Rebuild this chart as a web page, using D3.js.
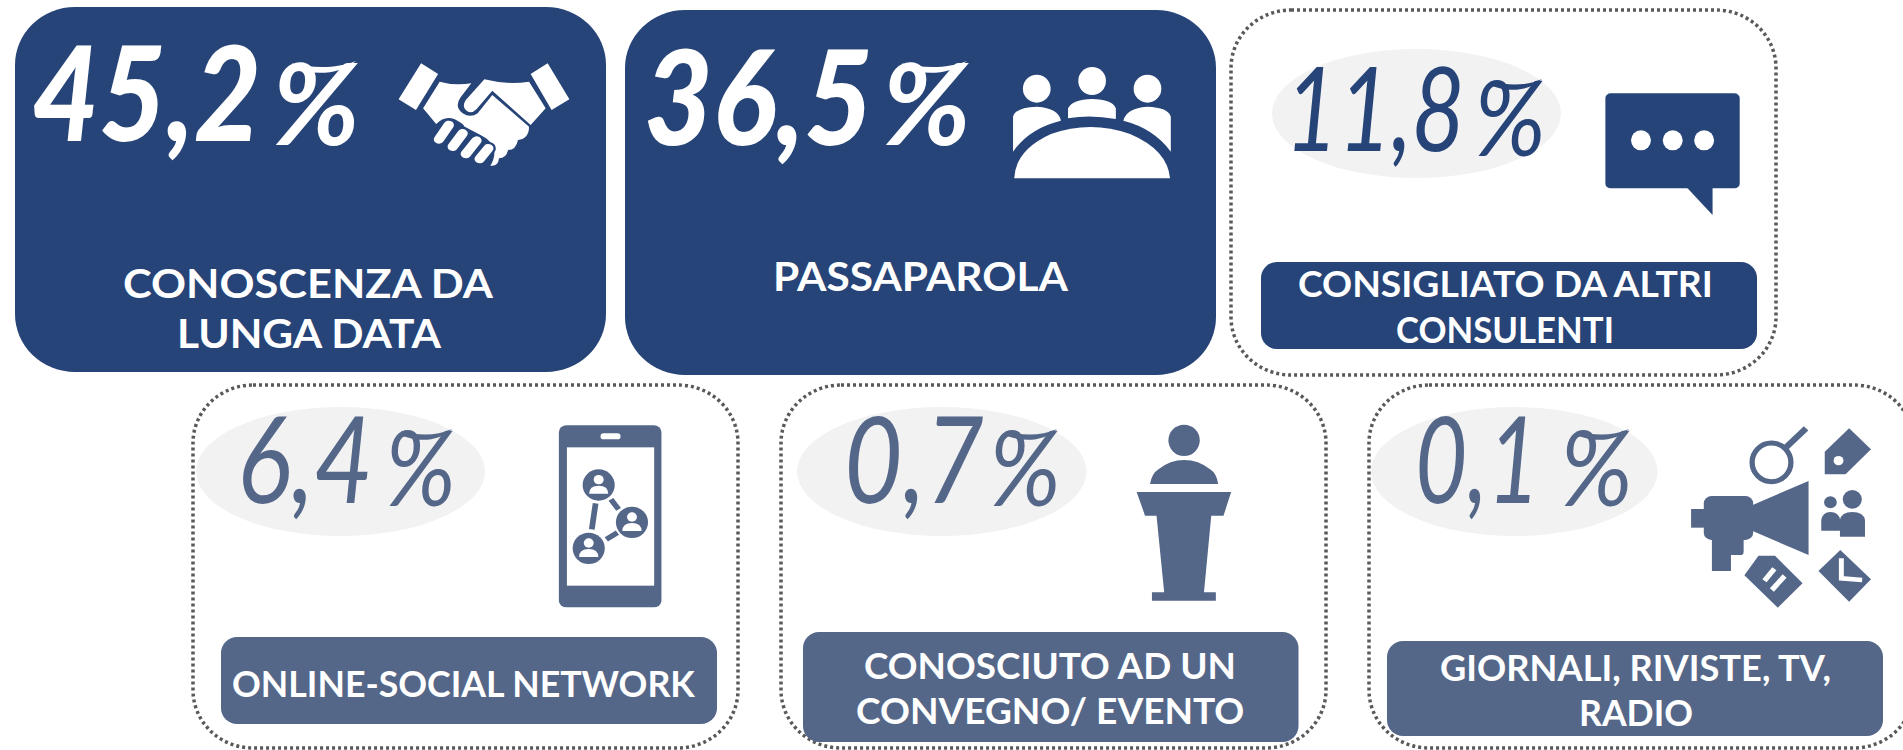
<!DOCTYPE html>
<html><head><meta charset="utf-8">
<script src="https://cdnjs.cloudflare.com/ajax/libs/d3/7.8.5/d3.min.js"></script>
<style>html,body{margin:0;padding:0;background:#fff;overflow:hidden}svg{display:block}</style>
</head><body><svg id="c" width="1903" height="750"></svg>
<script>
// ---- data ----
const categories = ["CONOSCENZA DA LUNGA DATA","PASSAPAROLA","CONSIGLIATO DA ALTRI CONSULENTI","ONLINE-SOCIAL NETWORK","CONOSCIUTO AD UN CONVEGNO/ EVENTO","GIORNALI, RIVISTE, TV, RADIO"];
const values = [45.2,36.5,11.8,6.4,0.7,0.1];
const labelLines = [["CONOSCENZA DA","LUNGA DATA"],["PASSAPAROLA"],["CONSIGLIATO DA ALTRI","CONSULENTI"],["ONLINE-SOCIAL NETWORK"],["CONOSCIUTO AD UN","CONVEGNO/ EVENTO"],["GIORNALI, RIVISTE, TV,","RADIO"]];

// ---- layout and style (separate from the data) ----
const DARK="#264478", MID="#556789", DOT="#595959", PALE="#f2f2f2";
const layout = [
 {card:[15,7,591,365],solid:true,color:DARK,num:[32,141,229,132,900],pct:[274,145,82,84],lines:[[123,298,370],[177,348,264]],fs:40,icon:"hands",z:[0,0,2.529]},
 {card:[625,10,591,365],solid:true,color:DARK,num:[644,145,229,132,900],pct:[884,145,83,84],lines:[[773,291,295]],fs:40,icon:"people",z:[620,0,2.529]},
 {card:[1231,10,545,365],color:DARK,ell:[1272,49,289,129],num:[1285,151,180,117,400],pct:[1476,156,66,77],box:[1261,262,496,87],lines:[[1298,297,415],[1396,343,218]],fs:36,icon:"bubble",z:[1220,0,2.613]},
 {card:[193,385,545,363],color:MID,ell:[196,407,289,129],num:[237,503,136,120,400],pct:[387,506,65,77],box:[221,637,496,87],lines:[[232,697,463]],fs:36,icon:"phone",z:[180,370,2.613]},
 {card:[781,385,545,363],color:MID,ell:[797,407,289.5,129],num:[844,503,140,120,400],pct:[991,506,66,77],box:[803,632,495.5,110],lines:[[864,679,372],[856,724,388.5]],fs:36,icon:"podium",z:[770,370,2.613]},
 {card:[1369,385,545,363],color:MID,ell:[1371,407,286.5,129],num:[1415,503,125,120,400],pct:[1562,506,67,77],box:[1387,641,496,95],lines:[[1440,681,391],[1579,726,114]],fs:36,icon:"media",z:[1350,370,2.835]}
];
const fmt = d3.formatLocale({decimal:",",thousands:".",grouping:[3],currency:["","€"]}).format(".1f");
const FONT = "Lato, 'Open Sans', sans-serif";

// places a text so that it spans the width w, by a horizontal scale of the whole element
function fit(sel,x,y,w){
 const nat=sel.node().getComputedTextLength();
 return sel.attr("transform",`translate(${x},${y}) scale(${w/nat},1)`);
}

// pictograms, drawn in the crop coordinates of each card
function P(g,d,fill){return g.append("path").attr("d",d).attr("fill",fill||null);}
function E(g,cx,cy,rx,ry,fill){return g.append("ellipse").attr("cx",cx).attr("cy",cy).attr("rx",rx).attr("ry",ry).attr("fill",fill||null);}
const icons = {
 hands(g,bg){
  P(g,"M1065 190L1108 222L1052 330L1008 298Z");
  P(g,"M1385 190L1342 222L1395 330L1440 298Z");
  P(g,"M1112 245Q1150 258 1192 250L1165 292Q1148 320 1170 340Q1190 355 1208 340L1245 285L1338 380Q1338 415 1310 420Q1305 450 1285 450Q1280 475 1262 475Q1260 500 1240 497Q1255 470 1248 440Q1240 420 1215 405Q1200 395 1175 380Q1170 370 1150 358Q1125 345 1103 372L1070 325Z");
  P(g,"M1225 238Q1280 255 1338 245L1380 325L1342 375L1245 272L1205 328Q1190 345 1178 330Q1168 318 1178 300Z");
  [[1110,418,1135,375],[1145,440,1170,400],[1178,462,1205,422],[1213,477,1235,445]].forEach(f=>{
   g.append("line").attr("x1",f[0]).attr("y1",f[1]).attr("x2",f[2]).attr("y2",f[3]).attr("stroke",bg).attr("stroke-width",38).attr("stroke-linecap","round");
   g.append("line").attr("x1",f[0]).attr("y1",f[1]).attr("x2",f[2]).attr("y2",f[3]).attr("stroke","#fff").attr("stroke-width",26).attr("stroke-linecap","round");
  });
 },
 people(g){
  E(g,1054,266,35,42);E(g,1194,243,35,42);E(g,1334,266,35,42);
  P(g,"M997 535Q1000 450 1090 402Q1190 360 1290 402Q1385 450 1391 535Z");
  P(g,"M994 350Q1000 322 1055 320Q1110 325 1115 362Q1035 385 994 455Z");
  P(g,"M1133 355L1133 325Q1145 298 1194 297Q1245 298 1254 325L1254 357Q1190 343 1133 355Z");
  P(g,"M1393 350Q1387 322 1333 320Q1280 325 1273 362Q1350 385 1393 455Z");
 },
 bubble(g,bg){
  g.append("rect").attr("x",1007).attr("y",280).attr("width",351).attr("height",285).attr("rx",14);
  P(g,"M1218 560L1287 645L1287 560Z");
  [1100,1183,1265].forEach(x=>E(g,x,421,26,30,bg));
 },
 phone(g,bg){
  g.append("rect").attr("x",990).attr("y",166).attr("width",268).attr("height",546).attr("rx",20);
  g.append("rect").attr("x",1011).attr("y",232).attr("width",228).attr("height",415).attr("fill",bg);
  g.append("rect").attr("x",1099).attr("y",190).attr("width",52).attr("height",18).attr("rx",8).attr("fill",bg);
  [[1094,345],[1181,457],[1068,535]].forEach(n=>{
   E(g,n[0],n[1],42,47);
   E(g,n[0],n[1]-16,13,14,bg);
   P(g,`M${n[0]-25} ${n[1]+26}Q${n[0]-25} ${n[1]+2} ${n[0]} ${n[1]+2}Q${n[0]+25} ${n[1]+2} ${n[0]+25} ${n[1]+26}Z`,bg);
  });
  [[1086,400,1076,478],[1126,388,1146,418],[1114,508,1143,488]].forEach(l=>
   g.append("line").attr("x1",l[0]).attr("y1",l[1]).attr("x2",l[2]).attr("y2",l[3]).attr("stroke",MID).attr("stroke-width",15));
 },
 podium(g){
  E(g,1082,211,41,47);
  P(g,"M993 342Q998 310 1015 298Q1045 270 1082 270Q1120 270 1150 298Q1167 310 1171 342Z");
  P(g,"M958 366L1205 366L1185 437L1153 437L1134 667L1165 667L1165 692L998 692L998 667L1030 667L1010 437L980 437Z");
 },
 media(g,bg){
  g.append("rect").attr("x",1003).attr("y",378).attr("width",140).attr("height",132).attr("rx",22);
  g.append("rect").attr("x",967).attr("y",417).attr("width",50).attr("height",56);
  P(g,"M1026 500L1116 500L1116 545Q1116 555 1106 555L1080 555L1080 603L1026 603Z");
  P(g,"M1135 408L1300 333L1300 555L1135 480Z");
  E(g,1195,277,55,58).attr("fill","none").attr("stroke",MID).attr("stroke-width",15);
  g.append("line").attr("x1",1236).attr("y1",232).attr("x2",1293).attr("y2",175).attr("stroke",MID).attr("stroke-width",18);
  P(g,"M1415 175L1477 238L1405 313L1346 313L1346 245Z");
  E(g,1385,272,14,14,bg);
  E(g,1362,397,18,18);E(g,1424,388,27,28);
  P(g,"M1336 482L1336 450Q1340 426 1362 426Q1385 426 1390 450L1390 482Z");
  P(g,"M1389 500L1389 450Q1393 426 1424 426Q1456 426 1460 450L1460 500Z");
  P(g,"M1118 616L1158 557L1205 557L1283 640L1213 713Z");
  [[1175,632,1203,596],[1196,660,1232,618]].forEach(l=>
   g.append("line").attr("x1",l[0]).attr("y1",l[1]).attr("x2",l[2]).attr("y2",l[3]).attr("stroke",bg).attr("stroke-width",15));
  P(g,"M1390 540L1477 628L1415 695L1328 603Z");
  P(g,"M1393 565L1393 625L1452 630",null).attr("fill","none").attr("stroke",bg).attr("stroke-width",14);
 }
};

const svg = d3.select("#c");
const cards = svg.selectAll("g.card").data(values).join("g").attr("class","card");

cards.each(function(v,i){
 const L=layout[i], g=d3.select(this), ink=L.solid?"#fff":L.color, c=L.card;
 g.append("rect").attr("x",c[0]).attr("y",c[1]).attr("width",c[2]).attr("height",c[3]).attr("rx",60).attr("ry",58)
  .attr("fill",L.solid?L.color:"#fff").attr("stroke",L.solid?"none":DOT).attr("stroke-width",3.5).attr("stroke-dasharray",L.solid?null:"3 3");
 if(L.ell) g.append("ellipse").attr("cx",L.ell[0]+L.ell[2]/2).attr("cy",L.ell[1]+L.ell[3]/2).attr("rx",L.ell[2]/2).attr("ry",L.ell[3]/2).attr("fill",PALE);
 const n=L.num, p=L.pct;
 fit(g.append("text").text(fmt(v)).attr("font-family",FONT).attr("font-style","italic").attr("fill",ink)
  .attr("font-weight",n[4]).attr("font-size",n[3]),n[0],n[1],n[2]);
 fit(g.append("text").text("%").attr("font-family",FONT).attr("font-style","italic").attr("fill",ink)
  .attr("font-weight",L.solid?700:400).attr("font-size",p[3]/0.74),p[0]-2,p[1],p[2]+6);
 // swash of the percent sign
 const sx=p[0], sy=p[1]-p[3], w=p[2], h=p[3];
 g.append("path").attr("d",`M${sx+.22*w} ${sy+.03*h}C${sx+.45*w} ${sy+.08*h} ${sx+.75*w} ${sy+.1*h} ${sx+w} ${sy}C${sx+.8*w} ${sy+.16*h} ${sx+.5*w} ${sy+.18*h} ${sx+.22*w} ${sy+.08*h}Z`).attr("fill",ink);
 if(L.box) g.append("rect").attr("x",L.box[0]).attr("y",L.box[1]).attr("width",L.box[2]).attr("height",L.box[3]).attr("rx",16).attr("fill",L.color);
 labelLines[i].forEach((s,k)=>{
  const l=L.lines[k];
  fit(g.append("text").text(s).attr("font-family",FONT).attr("font-weight",700)
   .attr("font-size",L.fs).attr("fill","#fff"),l[0],l[1],l[2]);
 });
 const z=L.z;
 const ic=g.append("g").attr("transform",`translate(${z[0]},${z[1]}) scale(${1/z[2]},${1/3})`).attr("fill",ink);
 icons[L.icon](ic,L.solid?DARK:"#fff");
});
</script>
</body></html>
